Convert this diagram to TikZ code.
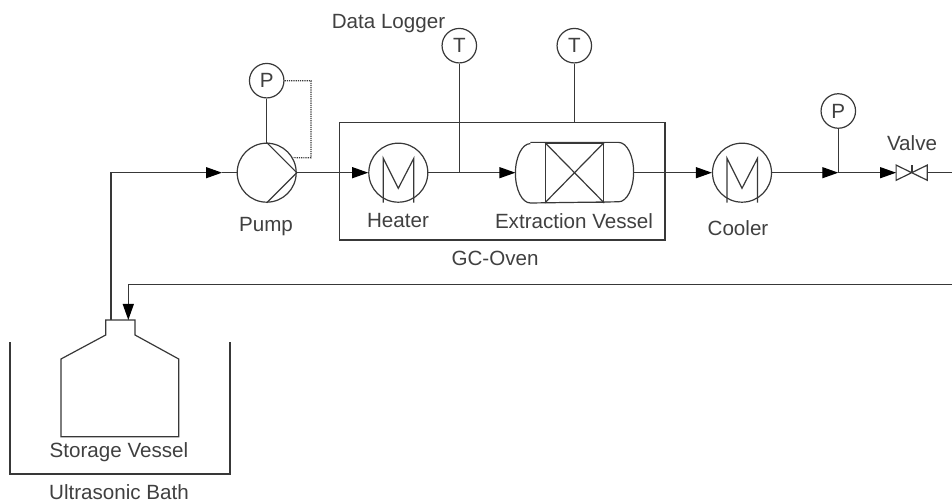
\documentclass[tikz,border=0pt]{standalone}
\usepackage{fontspec}
\setmainfont{Liberation Sans}
\usetikzlibrary{arrows.meta}
\definecolor{linegray}{gray}{0.22}
\definecolor{textgray}{gray}{0.25}

\begin{document}
\begin{tikzpicture}[x=1pt,y=1pt,line width=1.2pt,draw=linegray,text=textgray,
  font=\fontsize{20.6}{24}\selectfont,
  unit/.style={circle,draw,inner sep=0pt,minimum size=59pt},
  gauge/.style={circle,draw,inner sep=0pt,minimum size=34.5pt},
  flow/.style={-{Triangle[length=16pt,width=11pt,color=black]}}]
\useasboundingbox (0,0) rectangle (952,502);

% equipment
\node[unit] (pump) at (266.7,329.3) {};
\node[gauge] (P1) at (266.7,421.3) {P};
\node[unit] (heater) at (398.3,329.3) {};
\node[unit] (cooler) at (742,329.3) {};
\node[gauge] (T1) at (459.3,456.3) {T};
\node[gauge] (T2) at (574.3,456.3) {T};
\node[gauge] (P2) at (838.3,391) {P};
\node[draw,minimum width=325.7pt,minimum height=117.3pt] (oven) at (502.2,320.6) {};
\node[inner sep=0pt,minimum width=117pt,minimum height=59.4pt] (vessel) at (574.5,329.3) {};
\node[draw,inner sep=0pt,minimum width=58.3pt,minimum height=59.4pt] (packing) at (574.5,329.3) {};
\node[inner sep=0pt,minimum width=30pt,minimum height=14pt] (valve) at (911.7,329.3) {};

% junctions and ends
\coordinate (feedin) at (111,329.3);
\coordinate (feedarrow) at (222,329.3);
\coordinate (tapT) at (459.3,329.3);
\coordinate (tapP) at (838.3,329.3);
\coordinate (outR) at (952,329.3);
\coordinate (backR) at (952,217.7);
\coordinate (backL) at (128.3,217.7);
\coordinate (neckL) at (111,182);
\coordinate (neckR) at (128.3,182);
\coordinate (T2foot) at (574.3,379.3);

% storage vessel and bath
\draw (61,65.3) -- (61,143) -- (105.7,167) -- (105.7,182) -- (135,182) -- (135,167) -- (178.7,143) -- (178.7,65.3) -- cycle;
\draw (10,159.7) -- (10,28) -- (230,28) -- (230,159.7);

% pump blades
\draw (pump.north) -- (pump.east) -- (pump.south);

% heat exchanger marks
\foreach \name/\cx in {heater/398.3,cooler/742} {
  \draw (\cx-15,299.3) -- (\cx-15,343.7) -- (\cx,313.7) -- (\cx+15.5,343.7) -- (\cx+15.5,299.3);
}

% vessel outline
\draw ([xshift=15pt]vessel.north west) -- ([xshift=-15pt]vessel.north east)
  arc[start angle=90,end angle=-90,x radius=15pt,y radius=29.7pt]
  -- ([xshift=15pt]vessel.south west)
  arc[start angle=270,end angle=90,x radius=15pt,y radius=29.7pt];
\draw (packing.north west) -- (packing.south east);
\draw (packing.south west) -- (packing.north east);

% valve
\draw (valve.north west) -- (valve.south east) -- (valve.north east) -- (valve.south west) -- cycle;
\draw[line width=2pt] (valve.center) -- (valve.north);

% process lines
\draw[flow] (neckL) -- (feedin) -- (feedarrow);
\draw (feedarrow) -- (pump.west);
\draw[flow] (pump.east) -- (heater.west);
\draw[flow] (heater.east) -- (vessel.west);
\draw[flow] (vessel.east) -- (cooler.west);
\draw[flow] (cooler.east) -- (tapP);
\draw[flow] (tapP) -- (valve.west);
\draw (valve.east) -- (outR);
\draw[flow] (backR) -- (backL) -- (neckR);

% instrument lines
\draw (P1) -- (pump.north);
\draw (T1) -- (tapT);
\draw (T2) -- (T2foot);
\draw (P2) -- (tapP);
\draw[densely dotted] (P1.east) -- (311,421.3) -- (311,344.3) -- (pump.30);

% labels
\node (datalogger) at (388.5,478) {Data Logger};
\node (pumplabel) at (266,275) {Pump};
\node (heaterlabel) at (398,281) {Heater};
\node (vessellabel) at (574,281) {Extraction Vessel};
\node (ovenlabel) at (495,244) {GC-Oven};
\node (coolerlabel) at (738,274) {Cooler};
\node (valvelabel) at (912,359) {Valve};
\node (storagelabel) at (119,49.5) {Storage Vessel};
\node[inner sep=0pt] (bathlabel) at (119,9.5) {Ultrasonic Bath};
\end{tikzpicture}
\end{document}
